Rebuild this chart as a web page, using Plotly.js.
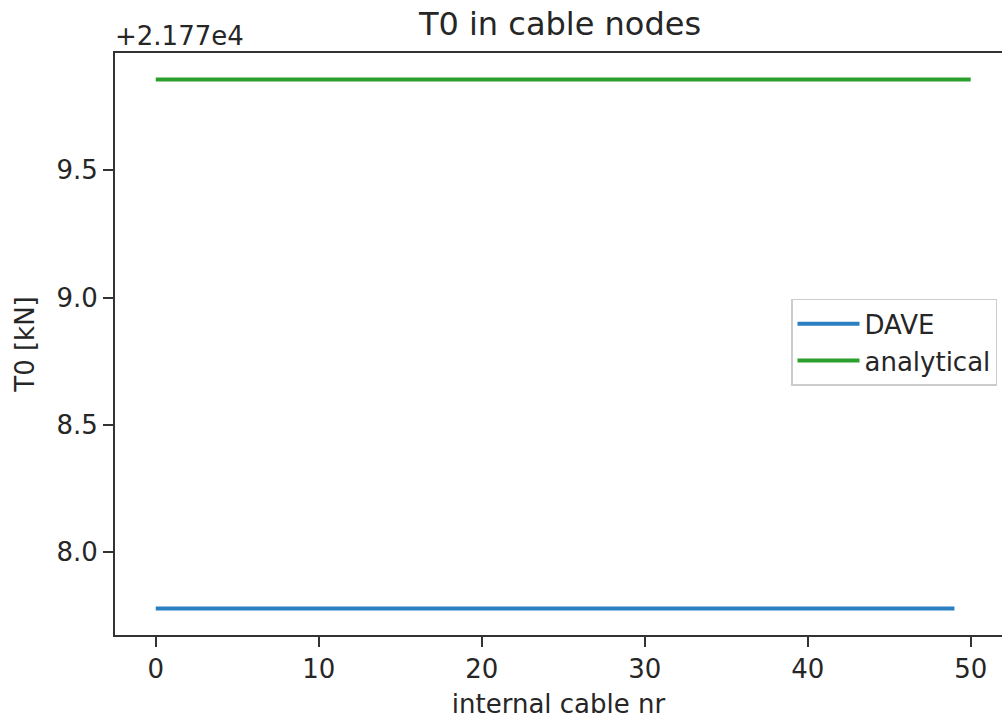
<!DOCTYPE html>
<html>
<head>
<meta charset="utf-8">
<script src="https://cdn.plot.ly/plotly-3.0.1.min.js"></script>
<style>
  html, body { margin: 0; padding: 0; background: #fff; }
  #chart { width: 1002px; height: 719px; }
</style>
</head>
<body>
<div id="chart"></div>
<script>
// ---- data ----
const daveX = [0,1,2,3,4,5,6,7,8,9,10,11,12,13,14,15,16,17,18,19,20,21,22,23,24,25,26,27,28,29,30,31,32,33,34,35,36,37,38,39,40,41,42,43,44,45,46,47,48,49];
const daveT0 = [21777.779,21777.779,21777.779,21777.779,21777.779,21777.779,21777.779,21777.779,21777.779,21777.779,
                21777.779,21777.779,21777.779,21777.779,21777.779,21777.779,21777.779,21777.779,21777.779,21777.779,
                21777.779,21777.779,21777.779,21777.779,21777.779,21777.779,21777.779,21777.779,21777.779,21777.779,
                21777.779,21777.779,21777.779,21777.779,21777.779,21777.779,21777.779,21777.779,21777.779,21777.779,
                21777.779,21777.779,21777.779,21777.779,21777.779,21777.779,21777.779,21777.779,21777.779,21777.779];
const analyticalX = [0,1,2,3,4,5,6,7,8,9,10,11,12,13,14,15,16,17,18,19,20,21,22,23,24,25,26,27,28,29,30,31,32,33,34,35,36,37,38,39,40,41,42,43,44,45,46,47,48,49,50];
const analyticalT0 = [21779.856,21779.856,21779.856,21779.856,21779.856,21779.856,21779.856,21779.856,21779.856,21779.856,
                      21779.856,21779.856,21779.856,21779.856,21779.856,21779.856,21779.856,21779.856,21779.856,21779.856,
                      21779.856,21779.856,21779.856,21779.856,21779.856,21779.856,21779.856,21779.856,21779.856,21779.856,
                      21779.856,21779.856,21779.856,21779.856,21779.856,21779.856,21779.856,21779.856,21779.856,21779.856,
                      21779.856,21779.856,21779.856,21779.856,21779.856,21779.856,21779.856,21779.856,21779.856,21779.856,
                      21779.856];
const yOffset = 21770;                 // shown as "+2.177e4"
const yOffsetLabel = '+2.177e4';
const yTickRel = [8.0, 8.5, 9.0, 9.5];
const yTickLabels = ['8.0', '8.5', '9.0', '9.5'];
const xTicks = [0, 10, 20, 30, 40, 50];
const seriesNames = ['DAVE', 'analytical'];

// ---- styles ----
const FONT = 'DejaVu Sans, sans-serif';
const TXT = '#262626';
const AX = '#333333';

const traces = [
  { x: daveX, y: daveT0, name: seriesNames[0], type: 'scatter', mode: 'lines',
    line: { color: '#2a7fc0', width: 4 } },
  { x: analyticalX, y: analyticalT0, name: seriesNames[1], type: 'scatter', mode: 'lines',
    line: { color: '#2ca02c', width: 4 } }
];

const layout = {
  width: 1002, height: 719,
  margin: { l: 115, r: 0, t: 53, b: 84, pad: 0 },
  paper_bgcolor: '#fff', plot_bgcolor: '#fff',
  font: { family: FONT, size: 26, color: TXT },
  showlegend: true,
  title: { text: 'T0 in cable nodes', font: { family: FONT, size: 32, color: TXT },
           x: 560 / 1002, xanchor: 'center', xref: 'container',
           y: 1 - 24 / 719, yanchor: 'middle', yref: 'container' },
  xaxis: {
    range: [-2.5, 51.92], autorange: false,
    tickmode: 'array', tickvals: xTicks, ticktext: xTicks.map(String),
    ticks: 'outside', ticklen: 10, tickwidth: 2, tickcolor: AX,
    showline: true, linewidth: 2, linecolor: AX, mirror: true,
    showgrid: false, zeroline: false,
    tickfont: { family: FONT, size: 26, color: TXT },
    title: { text: 'internal cable nr', font: { family: FONT, size: 26, color: TXT }, standoff: 14 },
    automargin: false
  },
  yaxis: {
    range: [21777.675, 21779.960], autorange: false,
    tickmode: 'array', tickvals: yTickRel.map(v => v + yOffset), ticktext: yTickLabels,
    ticks: 'outside', ticklen: 10, tickwidth: 2, tickcolor: AX,
    showline: true, linewidth: 2, linecolor: AX, mirror: false,
    showgrid: false, zeroline: false,
    tickfont: { family: FONT, size: 26, color: TXT },
    title: { text: 'T0 [kN]', font: { family: FONT, size: 26, color: TXT }, standoff: 14 },
    automargin: false
  },
  legend: {
    x: (997 - 115) / 887, xanchor: 'right', xref: 'paper',
    y: 0.503, yanchor: 'middle', yref: 'paper',
    itemwidth: 62,
    bgcolor: 'rgba(255,255,255,0.8)', bordercolor: '#cccccc', borderwidth: 1.5,
    font: { family: FONT, size: 26, color: TXT }
  },
  annotations: [
    { text: yOffsetLabel, xref: 'paper', yref: 'paper', x: 0, y: 1,
      xanchor: 'left', yanchor: 'bottom', showarrow: false, xshift: -2, yshift: 0,
      font: { family: FONT, size: 26, color: TXT } }
  ]
};

Plotly.newPlot('chart', traces, layout, { displayModeBar: false, staticPlot: true });
</script>
</body>
</html>
